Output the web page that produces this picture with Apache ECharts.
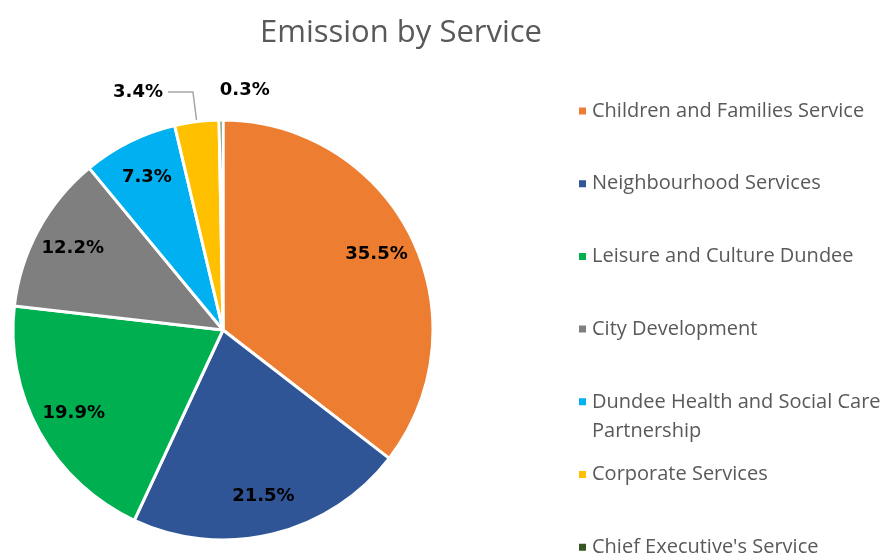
<!DOCTYPE html>
<html>
<head>
<meta charset="utf-8">
<script src="https://cdn.jsdelivr.net/npm/echarts@6/dist/echarts.min.js"></script>
<style>
  html, body { margin: 0; padding: 0; background: #fff; }
  #main { width: 889px; height: 556px; }
</style>
</head>
<body>
<div id="main"></div>
<script>
// services, clockwise from 12 o'clock
var services = [
    'Children and Families Service',
    'Neighbourhood Services',
    'Leisure and Culture Dundee',
    'City Development',
    'Dundee Health and Social Care Partnership',
    'Corporate Services',
    "Chief Executive's Service"
];
// share of emissions, %
var shares = [35.5, 21.5, 19.9, 12.2, 7.3, 3.4, 0.3];
var colours = ['#ED7D31', '#2F5597', '#00B050', '#7F7F7F', '#00B0F0', '#FFC000', '#375623'];

var myChart = echarts.init(document.getElementById('main'));

var labelFont = {
    fontFamily: 'DejaVu Sans',
    fontWeight: 'bold',
    fontSize: 18,
    color: '#000'
};
function pct(p) { return p.value.toFixed(1) + '%'; }

// small slices get their label outside, the rest inside
var small = function (i) { return i >= 5; };

// long names wrap onto a second line; an empty first line keeps
// the marker level with the first line of text
function wrap(n) {
    return n.indexOf(' Partnership') > -1 ? '\n' + n.replace(' Partnership', '\nPartnership') : n;
}

// one legend per entry so the rows keep an even spacing
var lineH = 29;
var legends = services.map(function (name, i) {
    var lines = wrap(name).split('\n').length;
    var centre = 111 + i * 72.7;
    return {
        orient: 'vertical',
        left: 577,
        top: centre - lines * lineH / 2,
        padding: 0,
        icon: 'rect',
        itemWidth: 9,
        itemHeight: 9,
        selectedMode: false,
        data: [name],
        formatter: wrap,
        textStyle: {
            fontFamily: 'Open Sans',
            fontSize: 20,
            color: '#595959',
            lineHeight: lineH
        }
    };
});

var option = {
    animation: false,
    title: {
        text: 'Emission by Service',
        left: 255,
        top: 13,
        textStyle: {
            fontFamily: 'Open Sans',
            fontWeight: 'normal',
            fontSize: 31,
            color: '#595959'
        }
    },
    legend: legends,
    series: [
        {
            name: 'Emission',
            type: 'pie',
            center: [223, 330],
            radius: 210,
            startAngle: 90,
            avoidLabelOverlap: false,
            emphasis: { scale: false },
            itemStyle: { borderColor: '#fff', borderWidth: 3 },
            label: Object.assign({ show: false, position: 'outside', formatter: pct }, labelFont),
            labelLine: { show: true, smooth: false, lineStyle: { color: '#A6A6A6', width: 1.5 } },
            data: services.map(function (name, i) {
                return {
                    name: name,
                    value: shares[i],
                    itemStyle: { color: colours[i] },
                    label: { show: small(i) },
                    labelLine: i === 5 ? { show: true, length: 30, length2: 25 }
                             : i === 6 ? { show: false, length: 30, length2: -54 }
                             : { show: false }
                };
            })
        },
        {
            // invisible copy, only used to push the inner labels out towards the rim
            name: 'labels',
            type: 'pie',
            center: [223, 330],
            radius: 336,
            startAngle: 90,
            silent: true,
            itemStyle: { color: 'transparent', borderWidth: 0 },
            label: Object.assign({ show: true, position: 'inside', formatter: pct }, labelFont),
            labelLine: { show: false },
            data: services.map(function (name, i) {
                return { name: name, value: shares[i], label: { show: !small(i) } };
            })
        }
    ]
};

myChart.setOption(option);
</script>
</body>
</html>
